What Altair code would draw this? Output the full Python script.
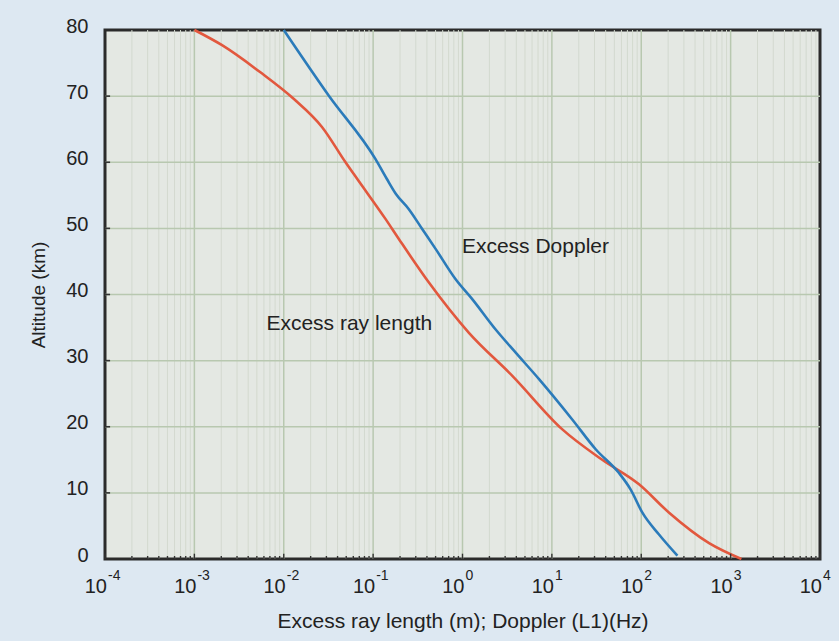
import altair as alt
import pandas as pd

# ---- data ----
red_alt = [80, 77.7, 73.6, 69.6, 65.3, 60, 57.5, 51.4, 48.4, 41.8, 34.2, 27.7,
           19.6, 15.0, 11.3, 7.0, 2.4, 0]
red_val = [1.0e-3, 2.04e-3, 5.48e-3, 1.29e-2, 2.69e-2, 4.91e-2, 6.62e-2, 0.138,
           0.194, 0.421, 1.18, 3.61, 13.1, 36.6, 94.4, 205, 574, 1320]

blue_alt = [80, 70.1, 60.5, 57.5, 55.2, 52.9, 49.9, 46.9, 42.3, 39.3, 34.7, 31.2,
            27.2, 21.1, 16.6, 13.0, 10.5, 7.0, 3.7, 0.5]
blue_val = [1.0e-2, 3.18e-2, 0.106, 0.142, 0.180, 0.251, 0.354, 0.5, 0.838, 1.285,
            2.35, 3.94, 7.18, 16.9, 30.9, 56.4, 76.2, 103, 158, 254]

decade_exp = [-4, -3, -2, -1, 0, 1, 2, 3, 4]
decade_sup = ["-4", "-3", "-2", "-1", "0", "1", "2", "3", "4"]
alt_grid = [10, 20, 30, 40, 50, 60, 70]
alt_ticks = [10, 20, 30, 40, 50, 60, 70]

ann_text = ["Excess Doppler", "Excess ray length"]
ann_x = [0.985, 0.0064]
ann_y = [47.2, 35.5]

# ---- tables ----
decades = [10.0 ** e for e in decade_exp]
minor = [m * 10.0 ** e for e in decade_exp[:-1] for m in range(2, 10)]

lines = pd.concat([
    pd.DataFrame({"x": red_val, "y": red_alt, "s": "Excess ray length",
                  "i": range(len(red_val))}),
    pd.DataFrame({"x": blue_val, "y": blue_alt, "s": "Excess Doppler",
                  "i": range(len(blue_val))}),
])
minor_df = pd.DataFrame({"x": minor})
major_df = pd.DataFrame({"x": decades[1:-1]})
hgrid_df = pd.DataFrame({"y": alt_grid})
btick_df = pd.DataFrame({"x": minor + decades, "y": 0.0,
                         "y2": [0.45] * len(minor) + [0.8] * len(decades)})
ltick_df = pd.DataFrame({"y": alt_ticks, "x": 1e-4, "x2": 1.14e-4})
lab_df = pd.DataFrame({"x": decades, "y": 0.0, "base": "10", "sup": decade_sup})
ann_df = pd.DataFrame({"x": ann_x, "y": ann_y, "t": ann_text})

FONT = "Liberation Sans"
XS = alt.Scale(type="log", domain=[1e-4, 1e4])
YS = alt.Scale(domain=[0, 80], nice=False, zero=False)
X_AX = alt.Axis(labels=False, ticks=False, domain=False, grid=False,
                title="Excess ray length (m); Doppler (L1)(Hz)",
                titleFontSize=21, titleFontWeight="normal", titleColor="#222",
                titleFont=FONT, titlePadding=51)
Y_AX = alt.Axis(values=[0, 10, 20, 30, 40, 50, 60, 70, 80], ticks=False, tickSize=0,
                domain=False, grid=False, labelFontSize=20, labelPadding=17,
                labelColor="#222", labelFont=FONT, labelOffset=-4,
                title="Altitude (km)", titleFontSize=19, titleFontWeight="normal",
                titleColor="#222", titleFont=FONT, titlePadding=17)


def X(f="x"):
    return alt.X(f"{f}:Q", scale=XS, axis=X_AX)


def Y(f="y"):
    return alt.Y(f"{f}:Q", scale=YS, axis=Y_AX)


minor_grid = alt.Chart(minor_df).mark_rule(color="#d3d9cf", strokeWidth=1).encode(x=X())
major_grid = alt.Chart(major_df).mark_rule(color="#b8c8b0", strokeWidth=1.5).encode(x=X())
h_grid = alt.Chart(hgrid_df).mark_rule(color="#b8c8b0", strokeWidth=1.5).encode(y=Y())

curves = alt.Chart(lines).mark_line(strokeWidth=2.6, interpolate="monotone").encode(
    x=X(), y=Y(), order="i:Q",
    color=alt.Color("s:N", scale=alt.Scale(domain=["Excess ray length", "Excess Doppler"],
                                           range=["#e2583e", "#2b7bba"]), legend=None),
)

b_ticks = alt.Chart(btick_df).mark_rule(color="#333", strokeWidth=1.4).encode(
    x=X(), y=Y(), y2="y2:Q")
l_ticks = alt.Chart(ltick_df).mark_rule(color="#333", strokeWidth=1.6).encode(
    y=Y(), x=X(), x2="x2:Q")

lab_base = alt.Chart(lab_df).mark_text(align="right", baseline="middle", dx=2, dy=28,
                                       fontSize=20, font=FONT, color="#222").encode(
    x=X(), y=Y(), text="base:N")
lab_sup = alt.Chart(lab_df).mark_text(align="left", baseline="middle", dx=3, dy=17,
                                      fontSize=14, font=FONT, color="#222").encode(
    x=X(), y=Y(), text="sup:N")

ann = alt.Chart(ann_df).mark_text(align="left", baseline="middle", fontSize=21,
                                  font=FONT, color="#222").encode(
    x=X(), y=Y(), text="t:N")

chart = alt.layer(minor_grid, major_grid, h_grid, curves, b_ticks, l_ticks,
                  lab_base, lab_sup, ann).properties(
    width=715, height=529,
    padding={"left": 105, "top": 30, "right": 19, "bottom": 82},
    autosize=alt.AutoSizeParams(type="none"),
    background="#dde8f2",
).configure(font=FONT).configure_view(
    fill="#e4e8e3", stroke="#2b2b2b", strokeWidth=3
)

chart.save("out.html", embed_options={"renderer": "svg", "actions": False})
